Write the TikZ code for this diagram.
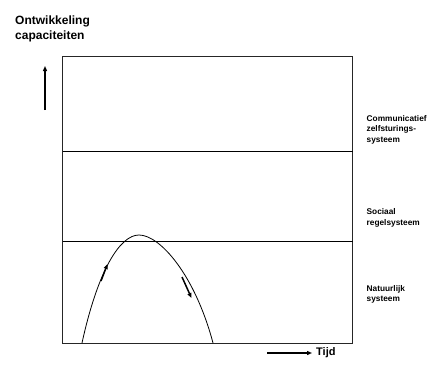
\documentclass[tikz,border=0pt]{standalone}
\usepackage{fontspec}
\setmainfont{Liberation Sans}
\usetikzlibrary{arrows.meta}
\begin{document}
\begin{tikzpicture}[x=1pt,y=-1pt,
  label/.style={anchor=base west,inner sep=0pt,align=left,font=\bfseries\fontsize{8.3}{10.5}\selectfont},
  title/.style={anchor=base west,inner sep=0pt,align=left,font=\bfseries\fontsize{12}{15}\selectfont},
  axisarrow/.style={line width=1.3pt,-{Triangle[length=5pt,width=4pt]}},
  flowarrow/.style={line width=1.5pt,-{Triangle[length=5pt,width=4pt]}},
  frame/.style={draw=black!85,line width=0.8pt},
  divider/.style={line width=1.2pt}]
\useasboundingbox (0,0) rectangle (429,365);
% axis titles (base anchor sits on the last line of a multi-line node)
\node[title] (ytitle) at (15,39) {Ontwikkeling\\capaciteiten};
\coordinate (yfrom) at (45,110);
\coordinate (yto) at (45,66);
\draw[axisarrow] (yfrom) -- (yto);
\coordinate (tfrom) at (267,353);
\coordinate (tto) at (312,353);
\draw[axisarrow] (tfrom) -- (tto);
\node[anchor=west,inner sep=0pt,font=\bfseries\fontsize{11}{12}\selectfont] (tijd) at (316,352.5) {Tijd};
% the three layers
\draw[frame] (62.5,56.5) rectangle (352.5,343);
\draw[divider] (62.5,151.5) -- (352.5,151.5);
\draw[divider] (62.5,241.5) -- (352.5,241.5);
\node[label] (comm) at (366.5,142) {Communicatief\\zelfsturings-\\systeem};
\node[label] (soc) at (366.5,225) {Sociaal\\regelsysteem};
\node[label] (nat) at (366.5,301.5) {Natuurlijk\\systeem};
% rise and fall of the curve
\coordinate (start) at (82,343);
\coordinate (peak) at (139,235);
\coordinate (finish) at (213,343);
\draw[line width=0.8pt] (start) .. controls (98,270) and (120,235) .. (peak)
  .. controls (160,235) and (195,275) .. (finish);
\coordinate (upfrom) at (101,281);
\coordinate (upto) at (107.5,264);
\draw[flowarrow] (upfrom) -- (upto);
\coordinate (downfrom) at (182,277);
\coordinate (downto) at (191.5,298);
\draw[flowarrow] (downfrom) -- (downto);
\end{tikzpicture}
\end{document}
